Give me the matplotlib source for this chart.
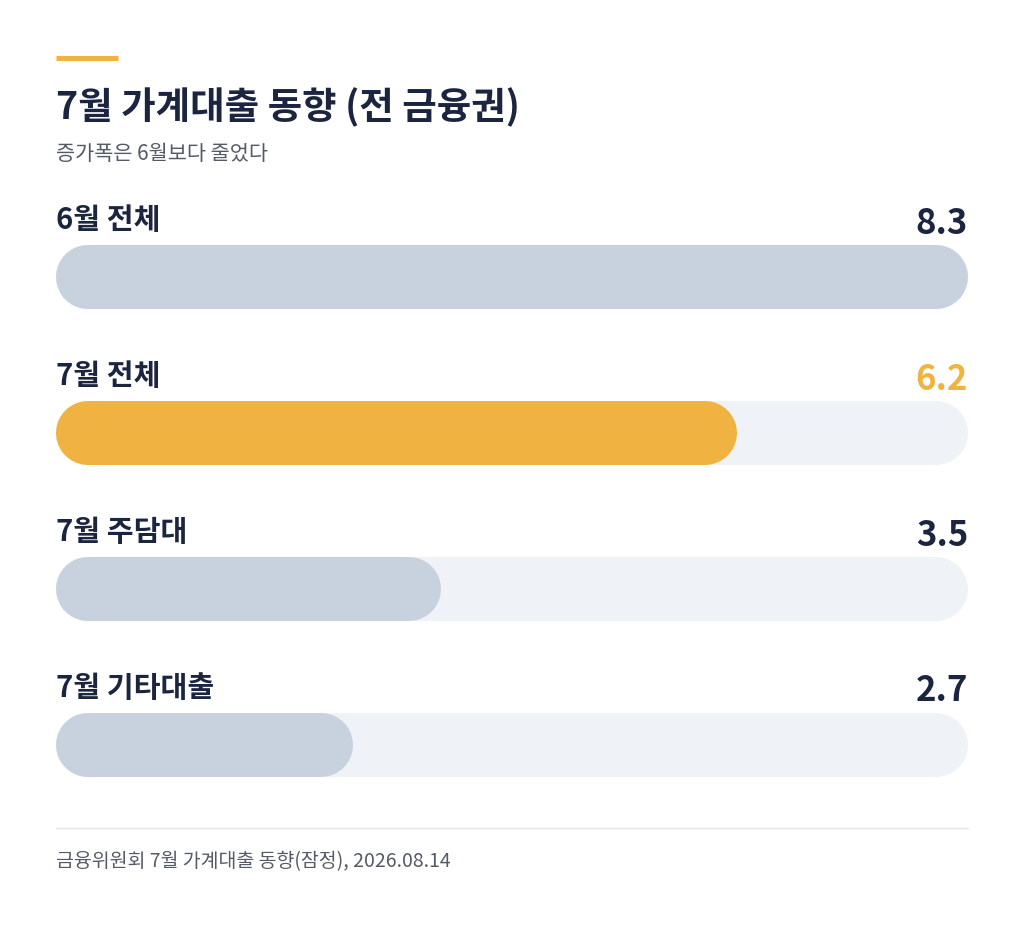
import matplotlib
matplotlib.use("Agg")
import matplotlib.pyplot as plt

categories = ["6월 전체", "7월 전체", "7월 주담대", "7월 기타대출"]
values = [8.3, 6.2, 3.5, 2.7]
value_labels = ["8.3", "6.2", "3.5", "2.7"]
highlight = 1
xmax = 8.3

W, H = 1024, 929
fig = plt.figure(figsize=(W/100, H/100), dpi=100)
fig.patch.set_facecolor("white")
plt.rcParams['font.family'] = ['Noto Sans CJK KR', 'DejaVu Sans']
ax = fig.add_axes([0, 0, 1, 1])
u = xmax / (968 - 56)
ax.set_xlim(-56*u, xmax + (W-968)*u)
y0, step = 278, 156
ax.set_ylim((H-y0)/step, -y0/step)
ax.axis("off")

navy = "#1b2540"; gray = "#c8d2df"; track = "#eff2f7"; orange = "#f0b240"
lw = 64*72/100
r = 32*u
def py(p): return (p - y0)/step

for i, (c, v, lab) in enumerate(zip(categories, values, value_labels)):
    ax.plot([r, xmax - r], [i, i], color=track, lw=lw, solid_capstyle="round")
    col = orange if i == highlight else gray
    ax.plot([r, max(v - r, r)], [i, i], color=col, lw=lw, solid_capstyle="round")
    ax.text(0, i - 58/step, c, fontsize=21, fontweight="bold", color=navy, va="center", ha="left")
    ax.text(xmax, i - 55/step, lab, fontsize=25, fontweight="bold",
            color=orange if i == highlight else navy, va="center", ha="right")

ax.plot([0, 62*u], [py(59), py(59)], color=orange, lw=5*0.72, solid_capstyle="butt")
ax.text(0, py(107), "7월 가계대출 동향 (전 금융권)", fontsize=27, fontweight="bold", color=navy, va="center")
ax.text(0, py(154), "증가폭은 6월보다 줄었다", fontsize=15, color="#555b66", va="center")
ax.plot([0, xmax], [py(829), py(829)], color="#e3e6ea", lw=1)
ax.text(0, py(862), "금융위원회 7월 가계대출 동향(잠정), 2026.08.14", fontsize=14, color="#555b66", va="center")

fig.savefig("out.png", dpi=100, facecolor="white")
